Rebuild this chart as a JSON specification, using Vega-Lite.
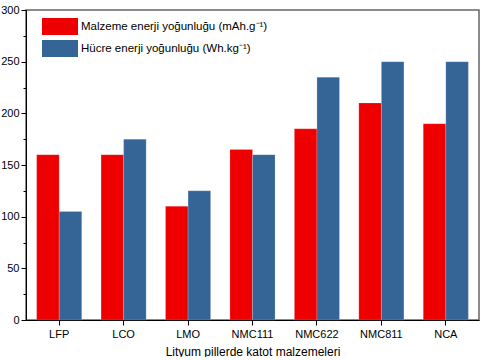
{
  "$schema": "https://vega.github.io/schema/vega-lite/v6.json",
  "width": 453,
  "height": 310,
  "padding": {"left": 0, "top": 4, "right": 5, "bottom": 0},
  "background": "white",
  "config": {
    "font": "Liberation Sans",
    "view": {"stroke": "#666666", "strokeWidth": 1.5},
    "axis": {"labelColor": "black", "titleColor": "black", "domainColor": "black", "tickColor": "black", "labelFontSize": 11, "titleFontSize": 12, "titleFontWeight": "normal", "grid": false}
  },
  "data": {
    "values": [
      {"katot": "LFP", "seri": "Malzeme enerji yoğunluğu (mAh.g⁻¹)", "deger": 160},
      {"katot": "LFP", "seri": "Hücre enerji yoğunluğu (Wh.kg⁻¹)", "deger": 105},
      {"katot": "LCO", "seri": "Malzeme enerji yoğunluğu (mAh.g⁻¹)", "deger": 160},
      {"katot": "LCO", "seri": "Hücre enerji yoğunluğu (Wh.kg⁻¹)", "deger": 175},
      {"katot": "LMO", "seri": "Malzeme enerji yoğunluğu (mAh.g⁻¹)", "deger": 110},
      {"katot": "LMO", "seri": "Hücre enerji yoğunluğu (Wh.kg⁻¹)", "deger": 125},
      {"katot": "NMC111", "seri": "Malzeme enerji yoğunluğu (mAh.g⁻¹)", "deger": 165},
      {"katot": "NMC111", "seri": "Hücre enerji yoğunluğu (Wh.kg⁻¹)", "deger": 160},
      {"katot": "NMC622", "seri": "Malzeme enerji yoğunluğu (mAh.g⁻¹)", "deger": 185},
      {"katot": "NMC622", "seri": "Hücre enerji yoğunluğu (Wh.kg⁻¹)", "deger": 235},
      {"katot": "NMC811", "seri": "Malzeme enerji yoğunluğu (mAh.g⁻¹)", "deger": 210},
      {"katot": "NMC811", "seri": "Hücre enerji yoğunluğu (Wh.kg⁻¹)", "deger": 250},
      {"katot": "NCA", "seri": "Malzeme enerji yoğunluğu (mAh.g⁻¹)", "deger": 190},
      {"katot": "NCA", "seri": "Hücre enerji yoğunluğu (Wh.kg⁻¹)", "deger": 250}
    ]
  },
  "mark": {"type": "bar", "stroke": "#ffffff", "strokeOpacity": 0.35, "strokeWidth": 0.5},
  "encoding": {
    "x": {
      "field": "katot", "type": "nominal", "sort": null,
      "scale": {"paddingInner": 0.3, "paddingOuter": 0.165},
      "axis": {"title": "Lityum pillerde katot malzemeleri", "labelAngle": 0, "tickSize": 5, "labelPadding": 3, "titlePadding": 7}
    },
    "xOffset": {"field": "seri", "type": "nominal", "sort": ["Malzeme enerji yoğunluğu (mAh.g⁻¹)", "Hücre enerji yoğunluğu (Wh.kg⁻¹)"]},
    "y": {
      "field": "deger", "type": "quantitative",
      "scale": {"domain": [0, 300], "nice": false},
      "axis": {
        "title": null,
        "values": [0, 25, 50, 75, 100, 125, 150, 175, 200, 225, 250, 275, 300],
        "labelExpr": "datum.value % 50 === 0 ? datum.label : ''",
        "tickSize": {"condition": {"test": "datum.value % 50 !== 0", "value": 3}, "value": 5},
        "labelPadding": 2
      }
    },
    "color": {
      "field": "seri", "type": "nominal",
      "sort": ["Malzeme enerji yoğunluğu (mAh.g⁻¹)", "Hücre enerji yoğunluğu (Wh.kg⁻¹)"],
      "scale": {"domain": ["Malzeme enerji yoğunluğu (mAh.g⁻¹)", "Hücre enerji yoğunluğu (Wh.kg⁻¹)"], "range": ["#EE0000", "#356597"]},
      "legend": {
        "title": null,
        "orient": "none",
        "legendX": 25,
        "legendY": 7.5,
        "symbolType": "M-2,-0.94H2V0.94H-2Z",
        "symbolSize": 324,
        "symbolStrokeWidth": 0,
        "labelFontSize": 11.5,
        "labelColor": "black",
        "labelLimit": 300,
        "rowPadding": 4,
        "labelOffset": 12
      }
    }
  }
}
